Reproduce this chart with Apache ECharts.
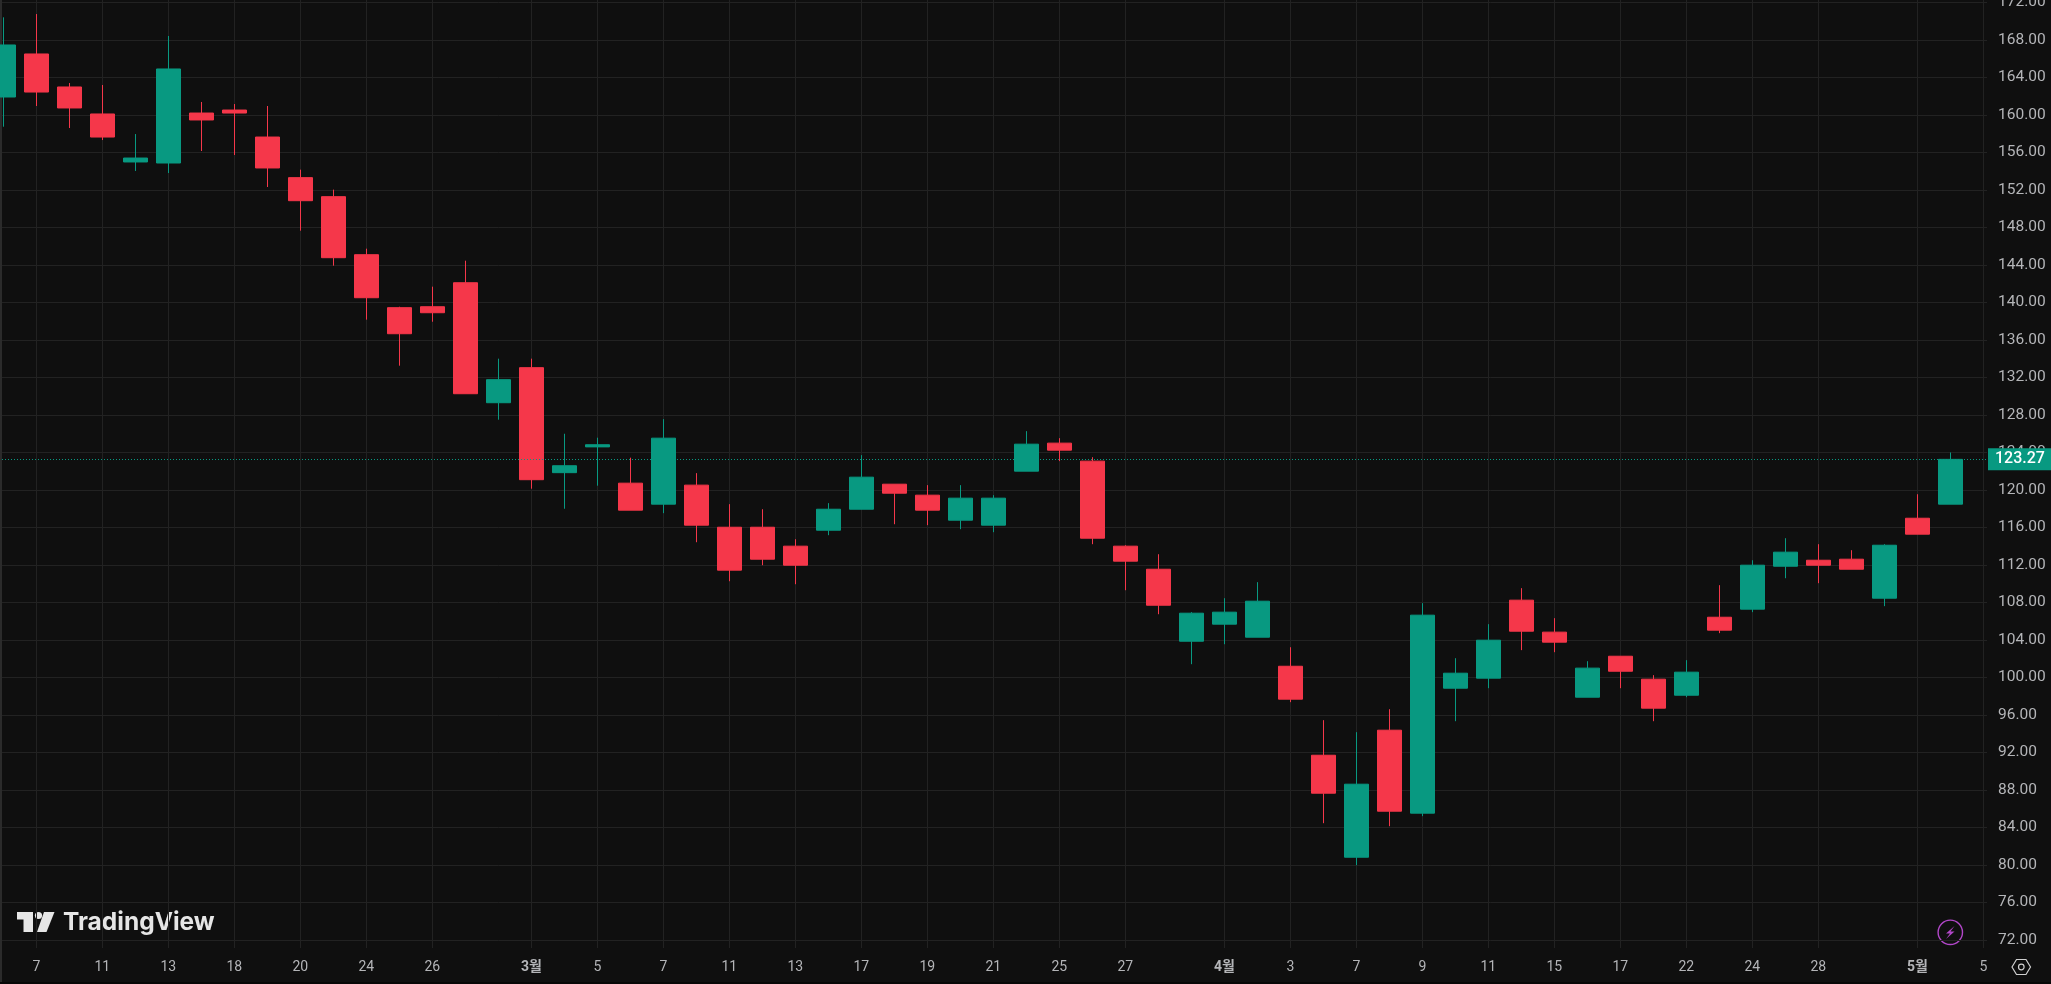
<!DOCTYPE html>
<html>
<head>
<meta charset="utf-8">
<style>html,body{margin:0;padding:0;background:#0f0f0f;overflow:hidden}#c{width:2051px;height:984px}</style>
<script src="https://cdn.jsdelivr.net/npm/echarts@6/dist/echarts.min.js"></script>
</head>
<body>
<div id="c"></div>
<script>
const opens  = [161.92,166.51,162.99,160.11,154.99,154.88,160.21,160.53,157.65,153.32,151.29,145.10,139.45,139.55,142.11,129.31,133.05,121.85,124.60,120.73,118.49,120.52,116.03,116.03,114.01,115.71,117.95,120.62,119.45,116.78,116.25,122.01,125.00,123.08,114.01,111.55,103.87,105.69,104.30,101.20,91.71,80.83,94.38,85.53,98.86,99.93,108.25,104.84,97.90,102.27,99.82,98.11,106.43,107.29,111.87,112.51,112.62,108.46,116.99,118.49];
const closes = [167.47,162.45,160.75,157.65,155.41,164.91,159.47,160.21,154.35,150.86,144.78,140.51,136.67,138.91,130.27,131.77,121.10,122.59,124.83,117.85,125.53,116.25,111.45,112.62,111.98,117.95,121.37,119.66,117.85,119.13,119.13,124.89,124.25,114.86,112.41,107.71,106.86,106.97,108.14,97.69,87.66,88.62,85.74,106.65,100.46,103.98,104.94,103.77,101.00,100.67,96.73,100.57,105.05,111.98,113.37,111.98,111.55,114.11,115.29,123.27];
const lows   = [158.75,160.96,158.61,157.33,154.03,153.81,156.16,155.73,152.32,147.66,143.93,138.17,133.26,137.95,130.27,127.50,120.14,118.00,120.46,117.85,117.53,114.43,110.27,111.98,109.95,115.18,117.95,116.35,116.25,115.82,115.50,122.01,123.08,114.22,109.31,106.75,101.42,103.55,104.30,97.37,84.46,79.98,84.14,85.21,95.34,98.86,102.92,102.70,97.90,98.86,95.34,97.90,104.73,106.97,110.59,110.06,111.55,107.61,115.29,118.49];
const highs  = [170.42,170.77,163.41,163.20,157.97,168.43,161.39,161.17,160.96,154.17,152.04,145.74,139.55,141.69,144.46,134.01,134.01,126.00,125.58,123.45,127.56,121.80,118.49,117.95,114.75,118.60,123.72,120.62,120.52,120.52,119.45,126.28,125.53,123.50,114.11,113.15,106.97,108.46,110.17,103.23,95.45,94.17,96.62,107.93,102.06,105.69,109.53,106.33,101.74,102.27,100.25,101.85,109.85,112.51,114.86,114.22,113.58,114.22,119.55,124.00];
const xTickIndex  = [1,3,5,7,9,11,13,16,18,20,22,24,26,28,30,32,34,37,39,41,43,45,47,49,51,53,55,58,60];
const xTickLabels = ['7','11','13','18','20','24','26','3월','5','7','11','13','17','19','21','25','27','4월','3','7','9','11','15','17','22','24','28','5월','5'];
const monthLabels = ['3월','4월','5월'];
const yTicks = [72,76,80,84,88,92,96,100,104,108,112,116,120,124,128,132,136,140,144,148,152,156,160,164,168,172];
const lastPrice = 123.27;

const BG = '#0f0f0f', GRID = '#222222', UP = '#089981', DOWN = '#f5374a', TXT = '#b4b5b8';
const FONT = 'Roboto, "Noto Sans CJK KR", sans-serif';
const candles = opens.map((o, i) => [i, o, closes[i], lows[i], highs[i]]);

const chart = echarts.init(document.getElementById('c'), null, {renderer: 'canvas'});
chart.setOption({
  animation: false,
  backgroundColor: BG,
  grid: {left: 2, right: 64, top: 0, height: 948, containLabel: false, outerBoundsMode: 'none'},
  xAxis: {
    type: 'value', min: -0.04, max: 60.11,
    axisLine: {show: false},
    axisTick: {show: false, customValues: xTickIndex},
    splitLine: {show: true, lineStyle: {color: GRID, width: 1}},
    axisLabel: {
      customValues: xTickIndex, margin: 12, color: TXT, fontFamily: FONT, fontSize: 14,
      hideOverlap: false, showMinLabel: true, showMaxLabel: true,
      formatter: v => {
        const s = xTickLabels[xTickIndex.indexOf(v)];
        return monthLabels.includes(s) ? '{b|' + s + '}' : s;
      },
      rich: {b: {fontWeight: 'bold', color: TXT, fontFamily: FONT, fontSize: 14}}
    }
  },
  yAxis: {
    type: 'value', position: 'right', min: 71.147, max: 172.267, scale: true,
    axisLine: {show: false},
    axisTick: {show: false, customValues: yTicks},
    splitLine: {show: true, lineStyle: {color: GRID, width: 1}},
    axisLabel: {customValues: yTicks, margin: 11, color: TXT, fontFamily: FONT, fontSize: 15.5, formatter: v => v.toFixed(2)}
  },
  series: [{
    type: 'candlestick',
    data: candles,
    encode: {x: 0, y: [1, 2, 3, 4]},
    barWidth: 24,
    itemStyle: {color: UP, color0: DOWN, borderColor: UP, borderColor0: DOWN, borderWidth: 1},
    markLine: {
      silent: true, symbol: 'none', animation: false,
      lineStyle: {color: UP, type: [1, 2], width: 1, opacity: 1},
      label: {
        show: true, position: 'end', distance: 1, color: '#ffffff', fontFamily: FONT, fontSize: 16, fontWeight: 500,
        backgroundColor: UP, padding: [3, 12, 3, 7], formatter: p => p.value.toFixed(2)
      },
      emphasis: {disabled: true},
      data: [{yAxis: lastPrice}]
    }
  }],
  graphic: [
    {type: 'rect', shape: {x: 0, y: 0, width: 2, height: 982}, style: {fill: '#2b2b2b'}, silent: true},
    {type: 'rect', shape: {x: 0, y: 982, width: 2051, height: 2}, style: {fill: '#070707'}, silent: true},
    {type: 'polygon', shape: {points: [[17, 912], [33, 912], [33, 932], [23.5, 932], [23.5, 919.5], [17, 919.5]]}, style: {fill: '#e6e6e6'}, silent: true},
    {type: 'circle', shape: {cx: 38.5, cy: 915.5, r: 3.6}, style: {fill: '#e6e6e6'}, silent: true},
    {type: 'polygon', shape: {points: [[44, 912], [54.5, 912], [46.5, 932], [37, 932]]}, style: {fill: '#e6e6e6'}, silent: true},
    {type: 'text', x: 63, y: 910, style: {text: 'TradingView', fill: '#e6e6e6', font: '700 24.5px Inter, sans-serif', textVerticalAlign: 'top'}, silent: true},
    {type: 'circle', shape: {cx: 1950.3, cy: 932.3, r: 12.2}, style: {fill: 'none', stroke: '#b247c9', lineWidth: 1.4}, silent: true},
    {type: 'polygon', shape: {points: [[1954.5, 926], [1946, 933.5], [1950, 933.5], [1946, 939], [1954.5, 931.5], [1950.5, 931.5]]}, style: {fill: '#b247c9'}, silent: true},
    {type: 'polygon', shape: {points: [[2012, 967], [2016.5, 959.5], [2026, 959.5], [2030.5, 967], [2026, 974.5], [2016.5, 974.5]]}, style: {fill: 'none', stroke: '#d0d0d0', lineWidth: 1.2}, silent: true},
    {type: 'circle', shape: {cx: 2021.3, cy: 967, r: 2.8}, style: {fill: 'none', stroke: '#d0d0d0', lineWidth: 1.2}, silent: true}
  ]
});
</script>
</body>
</html>
